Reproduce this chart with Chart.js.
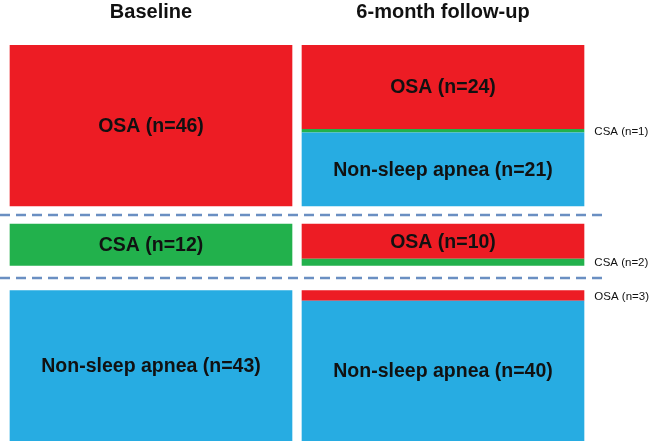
<!doctype html>
<html>
	<head>
		<title>Sleep apnea at baseline and 6-month follow-up</title>
		<meta charset="utf-8">
		<script src="https://cdn.jsdelivr.net/npm/chart.js@4.4.0/dist/chart.umd.min.js"></script>
		<style>
			body { margin: 0; background: #fff; }
			#wrap { width: 650px; height: 442px; }
		</style>
	</head>
	<body>
		<div id="wrap">
			<canvas id="canvas"></canvas>
		</div>

<script>
	// columns
	var columns = ['Baseline', '6-month follow-up'];

	// baseline groups, bottom to top
	var baselineLabels = ['Non-sleep apnea', 'CSA', 'OSA'];
	var baselineCounts = [43, 12, 46];

	// follow-up segments, bottom to top, with the baseline group they came from
	var followupLabels = ['Non-sleep apnea', 'OSA', 'CSA', 'OSA', 'Non-sleep apnea', 'CSA', 'OSA'];
	var followupCounts = [40, 3, 2, 10, 21, 1, 24];
	var followupGroup  = [0, 0, 1, 1, 2, 2, 2];

	var colors = { 'OSA': '#ed1c24', 'CSA': '#22b14c', 'Non-sleep apnea': '#27ace2' };
	var gapSizes = [7, 5]; // empty space between the groups (in n units)

	var dataSets = [];
	for (var g = 0; g < baselineLabels.length; g++) {
		dataSets.push({
			label: baselineLabels[g],
			data: [baselineCounts[g], null],
			backgroundColor: colors[baselineLabels[g]]
		});
		for (var k = 0; k < followupLabels.length; k++) {
			if (followupGroup[k] != g) continue;
			dataSets.push({
				label: followupLabels[k],
				data: [null, followupCounts[k]],
				backgroundColor: colors[followupLabels[k]]
			});
		}
		if (g < gapSizes.length) {
			dataSets.push({
				label: 'gap',
				gap: true,
				data: [gapSizes[g], gapSizes[g]],
				backgroundColor: 'rgba(0,0,0,0)'
			});
		}
	}

	var drawText = {
		id: 'drawText',
		afterDatasetsDraw: function(chart) {
			var ctx = chart.ctx;
			var xs = chart.scales.x;
			ctx.save();
			ctx.fillStyle = '#111';
			ctx.textBaseline = 'middle';

			// column headers
			ctx.font = 'bold 20px "Liberation Sans", Arial, sans-serif';
			ctx.textAlign = 'center';
			columns.forEach(function(c, i) {
				ctx.fillText(c, xs.getPixelForValue(i), 12);
			});

			// dashed separators in the middle of each gap
			ctx.strokeStyle = '#6a8fc2';
			ctx.lineWidth = 2.5;
			ctx.setLineDash([10, 6]);
			chart.data.datasets.forEach(function(ds, i) {
				if (!ds.gap) return;
				var el = chart.getDatasetMeta(i).data[0];
				var y = Math.round((el.y + el.base) / 2);
				ctx.beginPath();
				ctx.moveTo(0, y);
				ctx.lineTo(602, y);
				ctx.stroke();
			});
			ctx.setLineDash([]);

			// segment labels
			chart.data.datasets.forEach(function(ds, i) {
				if (ds.gap) return;
				var meta = chart.getDatasetMeta(i);
				ds.data.forEach(function(v, j) {
					if (v == null) return;
					var el = meta.data[j];
					var y = (el.y + el.base) / 2;
					var txt = ds.label + ' (n=' + v + ')';
					if (v >= 10) {
						ctx.font = 'bold 19.5px "Liberation Sans", Arial, sans-serif';
						ctx.textAlign = 'center';
						ctx.fillText(txt, el.x, y + 1);
					} else {
						ctx.font = '11.5px "Liberation Sans", Arial, sans-serif';
						ctx.textAlign = 'left';
						ctx.fillText(txt, el.x + el.width / 2 + 10, y + 1);
					}
				});
			});
			ctx.restore();
		}
	};

	new Chart(document.getElementById('canvas'), {
		type: 'bar',
		data: {
			labels: columns,
			datasets: dataSets
		},
		options: {
			responsive: true,
			maintainAspectRatio: false,
			animation: false,
			layout: { padding: { top: 45, left: 5, right: 61, bottom: 1 } },
			datasets: { bar: { barPercentage: 1, categoryPercentage: 0.968 } },
			plugins: {
				legend: { display: false },
				tooltip: { enabled: false }
			},
			scales: {
				x: { stacked: true, display: false },
				y: { stacked: true, display: false, min: 0, max: 113 }
			}
		},
		plugins: [drawText]
	});
</script>
	</body>
</html>
